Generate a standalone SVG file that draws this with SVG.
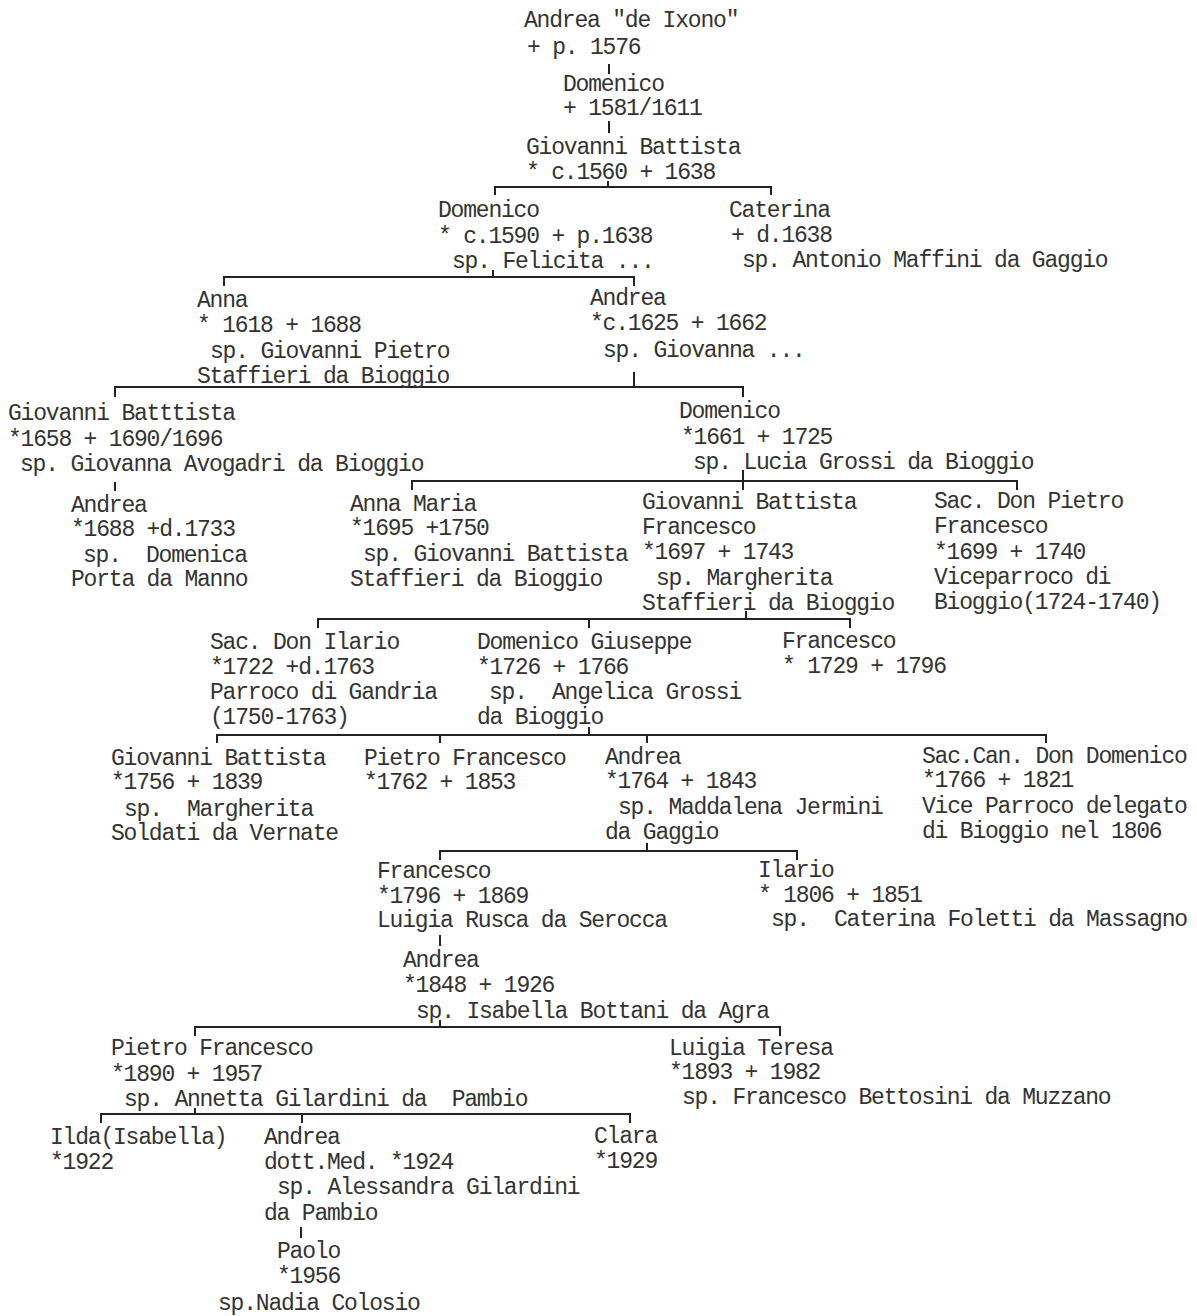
<svg xmlns="http://www.w3.org/2000/svg" width="1197" height="1316" viewBox="0 0 1197 1316">
<style>
text{font-family:"Liberation Mono","DejaVu Sans Mono",monospace;font-size:23px;letter-spacing:-1.2px;fill:#333;white-space:pre}
.c{stroke:#222;stroke-width:2;fill:none}
</style>
<rect width="1197" height="1316" fill="#fff"/>
<g id="connectors" class="c">
<path d="M609 64V74"/>
<path d="M609 121V133"/>
<path d="M608 181V187M495 195V187H771V195"/>
<path d="M493 270V277M224 286V277H634V286"/>
<path d="M634 372V387M115 397V387H743V397"/>
<path d="M115 482V491"/>
<path d="M743 470V490M412 490V481H1017V490"/>
<path d="M746 611V619M318 628V619H850V628M589 619V628"/>
<path d="M589 727V735M217 743V735H1046V743M440 735V743M647 735V743"/>
<path d="M647 843V851M440 860V851H797V860"/>
<path d="M440 935V946"/>
<path d="M440 1020V1027M195 1036V1027H780V1036"/>
<path d="M195 1108V1114M101 1123V1114H630V1123M302 1114V1123"/>
<path d="M301 1227V1238"/>
</g>
<g id="n-andrea-1576"><text x="524" y="27">Andrea "de Ixono"</text><text x="527" y="54">+ p. 1576</text></g>
<g id="n-domenico-1611"><text x="563" y="91">Domenico</text><text x="563" y="115">+ 1581/1611</text></g>
<g id="n-gb-1638"><text x="526" y="154">Giovanni Battista</text><text x="526" y="179">* c.1560 + 1638</text></g>
<g id="n-domenico-1590"><text x="438" y="217">Domenico</text><text x="438" y="243">* c.1590 + p.1638</text><text x="452" y="268">sp. Felicita ...</text></g>
<g id="n-caterina"><text x="729" y="217">Caterina</text><text x="731" y="242">+ d.1638</text><text x="742" y="267">sp. Antonio Maffini da Gaggio</text></g>
<g id="n-anna-1618"><text x="197" y="307">Anna</text><text x="197" y="332">* 1618 + 1688</text><text x="210" y="358">sp. Giovanni Pietro</text><text x="197" y="383">Staffieri da Bioggio</text></g>
<g id="n-andrea-1625"><text x="590" y="305">Andrea</text><text x="590" y="330">*c.1625 + 1662</text><text x="603" y="357">sp. Giovanna ...</text></g>
<g id="n-gb-1658"><text x="8" y="420">Giovanni Batttista</text><text x="8" y="446">*1658 + 1690/1696</text><text x="20" y="471">sp. Giovanna Avogadri da Bioggio</text></g>
<g id="n-domenico-1661"><text x="679" y="418">Domenico</text><text x="681" y="444">*1661 + 1725</text><text x="693" y="469">sp. Lucia Grossi da Bioggio</text></g>
<g id="n-andrea-1688"><text x="71" y="512">Andrea</text><text x="71" y="536">*1688 +d.1733</text><text x="83" y="562">sp.  Domenica</text><text x="71" y="586">Porta da Manno</text></g>
<g id="n-annamaria-1695"><text x="350" y="511">Anna Maria</text><text x="350" y="535">*1695 +1750</text><text x="363" y="561">sp. Giovanni Battista</text><text x="350" y="586">Staffieri da Bioggio</text></g>
<g id="n-gbf-1697"><text x="642" y="509">Giovanni Battista</text><text x="642" y="534">Francesco</text><text x="642" y="559">*1697 + 1743</text><text x="656" y="585">sp. Margherita</text><text x="642" y="610">Staffieri da Bioggio</text></g>
<g id="n-pietro-1699"><text x="934" y="508">Sac. Don Pietro</text><text x="934" y="533">Francesco</text><text x="934" y="559">*1699 + 1740</text><text x="934" y="584">Viceparroco di</text><text x="934" y="609">Bioggio(1724-1740)</text></g>
<g id="n-ilario-1722"><text x="210" y="649">Sac. Don Ilario</text><text x="210" y="674">*1722 +d.1763</text><text x="210" y="699">Parroco di Gandria</text><text x="210" y="724">(1750-1763)</text></g>
<g id="n-domgiuseppe-1726"><text x="477" y="649">Domenico Giuseppe</text><text x="477" y="674">*1726 + 1766</text><text x="489" y="699">sp.  Angelica Grossi</text><text x="477" y="724">da Bioggio</text></g>
<g id="n-francesco-1729"><text x="782" y="648">Francesco</text><text x="782" y="673">* 1729 + 1796</text></g>
<g id="n-gb-1756"><text x="111" y="765">Giovanni Battista</text><text x="111" y="789">*1756 + 1839</text><text x="124" y="816">sp.  Margherita</text><text x="111" y="840">Soldati da Vernate</text></g>
<g id="n-pietrof-1762"><text x="364" y="765">Pietro Francesco</text><text x="364" y="789">*1762 + 1853</text></g>
<g id="n-andrea-1764"><text x="605" y="764">Andrea</text><text x="605" y="788">*1764 + 1843</text><text x="618" y="814">sp. Maddalena Jermini</text><text x="605" y="839">da Gaggio</text></g>
<g id="n-domenico-1766"><text x="922" y="763">Sac.Can. Don Domenico</text><text x="922" y="787">*1766 + 1821</text><text x="922" y="813">Vice Parroco delegato</text><text x="922" y="838">di Bioggio nel 1806</text></g>
<g id="n-francesco-1796"><text x="377" y="878">Francesco</text><text x="377" y="903">*1796 + 1869</text><text x="377" y="927">Luigia Rusca da Serocca</text></g>
<g id="n-ilario-1806"><text x="758" y="877">Ilario</text><text x="758" y="902">* 1806 + 1851</text><text x="771" y="926">sp.  Caterina Foletti da Massagno</text></g>
<g id="n-andrea-1848"><text x="403" y="967">Andrea</text><text x="403" y="992">*1848 + 1926</text><text x="416" y="1018">sp. Isabella Bottani da Agra</text></g>
<g id="n-pietrof-1890"><text x="111" y="1055">Pietro Francesco</text><text x="111" y="1081">*1890 + 1957</text><text x="124" y="1106">sp. Annetta Gilardini da  Pambio</text></g>
<g id="n-luigia-1893"><text x="669" y="1055">Luigia Teresa</text><text x="669" y="1079">*1893 + 1982</text><text x="682" y="1104">sp. Francesco Bettosini da Muzzano</text></g>
<g id="n-ilda-1922"><text x="50" y="1144">Ilda(Isabella)</text><text x="50" y="1169">*1922</text></g>
<g id="n-andrea-1924"><text x="264" y="1144">Andrea</text><text x="264" y="1169">dott.Med. *1924</text><text x="277" y="1194">sp. Alessandra Gilardini</text><text x="264" y="1220">da Pambio</text></g>
<g id="n-clara-1929"><text x="594" y="1143">Clara</text><text x="594" y="1168">*1929</text></g>
<g id="n-paolo-1956"><text x="277" y="1258">Paolo</text><text x="277" y="1283">*1956</text><text x="218" y="1310">sp.Nadia Colosio</text></g>
</svg>
